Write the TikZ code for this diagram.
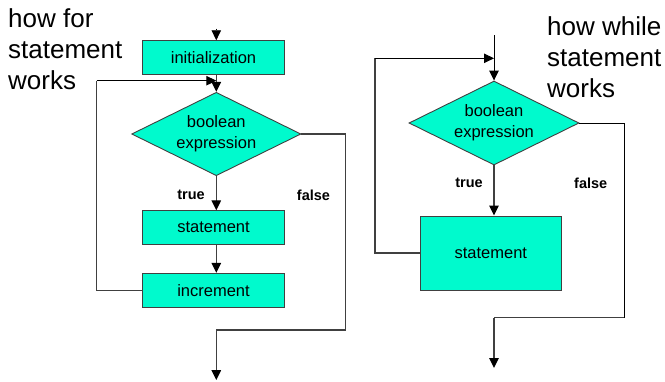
\documentclass[tikz,border=0pt]{standalone}
\usepackage{fontspec}
\setmainfont{Liberation Sans}
\usetikzlibrary{arrows.meta,shapes.geometric}
\definecolor{aqua}{RGB}{0,250,205}
\definecolor{lgray}{RGB}{64,64,64}
\tikzset{
  procbox/.style={draw=lgray,line width=0.9pt,fill=aqua,rectangle,inner sep=0pt,
    font=\fontsize{16.5}{21}\selectfont},
  decbox/.style={draw=lgray,line width=0.9pt,fill=aqua,diamond,aspect=2,inner sep=0pt,
    align=center,font=\fontsize{16.5}{21}\selectfont},
  conn/.style={draw=lgray,line width=1.4pt},
  thinconn/.style={draw=black,line width=0.9pt},
  arr/.style={-{Triangle[length=10pt,width=9.5pt,color=black]}},
  lbl/.style={font=\bfseries\fontsize{14.5}{17}\selectfont,inner sep=0pt},
  title/.style={align=left,anchor=north west,inner sep=0pt,font=\fontsize{26}{31}\selectfont}
}
\begin{document}
\begin{tikzpicture}[x=1pt,y=-1pt]
\useasboundingbox (0,0) rectangle (665,381);
% titles
\node[title] (t1) at (8,8) {how for\\statement\\works};
\node[title] (t2) at (547,16.5) {how while\\statement\\works};
% ---- for diagram ----
\node[procbox,minimum width=141.6pt,minimum height=33.4pt] (init) at (213.5,57.4) {initialization};
\node[decbox,minimum width=169.3pt,minimum height=83.4pt] (d1) at (216.3,134) {boolean\\expression};
\node[procbox,minimum width=141.6pt,minimum height=33.6pt] (s1) at (213.5,227.5) {statement};
\node[procbox,minimum width=141.6pt,minimum height=34pt] (inc) at (213.5,290.3) {increment};
\node[lbl] (tr1) at (191,195) {true};
\node[lbl] (fa1) at (313.5,195) {false};
\coordinate (in1) at (216.3,28.5);
\coordinate (lp1) at (96.7,80.7);
\coordinate (f1) at (345.5,330);
\coordinate (out1) at (216.3,380);
\draw[thinconn,arr] (in1) -- (in1 |- init.north);
\draw[conn,arr] (init.south -| d1.north) -- (d1.north);
\draw[conn,arr] (d1.south) -- (s1.north -| d1.south);
\draw[conn,arr] (s1.south -| d1.south) -- (inc.north -| d1.south);
\draw[conn] (inc.west) -| (lp1);
\draw[thinconn,arr] (lp1) -- (lp1 -| d1.north);
\draw[conn] (d1.east) -| (f1) -- (f1 -| out1);
\draw[conn,arr] (f1 -| out1) -- (out1);
% ---- while diagram ----
\node[decbox,minimum width=170pt,minimum height=84pt] (d2) at (494,123) {boolean\\expression};
\node[procbox,minimum width=141.7pt,minimum height=74pt] (s2) at (490.8,253) {statement};
\node[lbl] (tr2) at (469,183) {true};
\node[lbl] (fa2) at (590.7,183) {false};
\coordinate (in2) at (494,35);
\coordinate (lp2) at (375,58.3);
\coordinate (f2) at (624.3,317.7);
\coordinate (out2) at (494,368);
\draw[thinconn,arr] (in2) -- (d2.north);
\draw[conn,arr] (d2.south) -- (s2.north -| d2.south);
\draw[conn] (s2.west) -| (lp2);
\draw[thinconn,arr] (lp2) -- (lp2 -| d2.north);
\draw[thinconn] (d2.east) -| (f2);
\draw[conn] (f2) -- (f2 -| out2);
\draw[conn,arr] (f2 -| out2) -- (out2);
\end{tikzpicture}
\end{document}
